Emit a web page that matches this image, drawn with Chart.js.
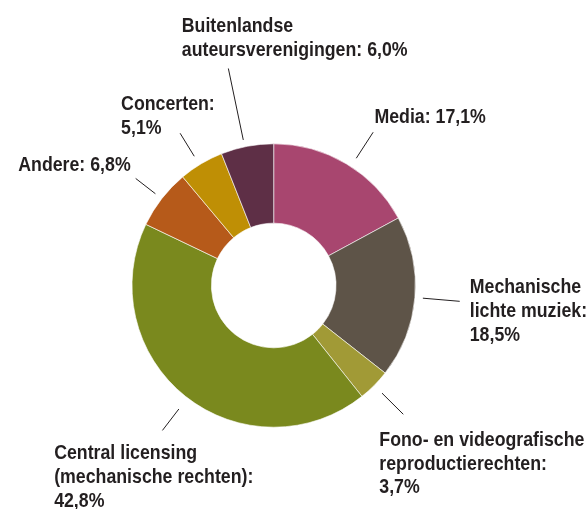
<!DOCTYPE html>
<html>
<head>
<meta charset="utf-8">
<script src="https://cdn.jsdelivr.net/npm/chart.js@4/dist/chart.umd.min.js"></script>
<style>
  html, body { margin: 0; padding: 0; background: #ffffff; }
  #wrap { width: 588px; height: 509px; }
</style>
</head>
<body>
<div id="wrap"><canvas id="c" width="588" height="509"></canvas></div>
<script>
// ---- data ----
const categories = [
  "Media",
  "Mechanische lichte muziek",
  "Fono- en videografische reproductierechten",
  "Central licensing (mechanische rechten)",
  "Andere",
  "Concerten",
  "Buitenlandse auteursverenigingen"
];
const values = [17.1, 18.5, 3.7, 42.8, 6.8, 5.1, 6.0];
// label text lines; {v} is replaced by the formatted value
const labelLines = [
  ["Media: {v}"],
  ["Mechanische", "lichte muziek:", "{v}"],
  ["Fono- en videografische", "reproductierechten:", "{v}"],
  ["Central licensing", "(mechanische rechten):", "{v}"],
  ["Andere: {v}"],
  ["Concerten:", "{v}"],
  ["Buitenlandse", "auteursverenigingen: {v}"]
];
const colors = ["#a8466f", "#5e5448", "#a19a36", "#7a891e", "#b65a1a", "#bf8f05", "#5e2f46"];

// ---- label layout (leader-line angle tweak in degrees, radii, text offsets from line end) ----
const labelLayout = [
  { da: 2.2,  r0: 10, r1: 41, dx: 1.3,    dy: -9,   align: "left"  },
  { da: 0,    r0: 8,  r1: 45, dx: 10,     dy: -8,   align: "left"  },
  { da: 0,    r0: 11, r1: 41, dx: -24,    dy: 31.6, align: "left"  },
  { da: -1,   r0: 14, r1: 41, dx: -108.3, dy: 28.8, align: "left"  },
  { da: 0,    r0: 8,  r1: 33, dx: -5,     dy: -7.6, align: "right" },
  { da: -0.8, r0: 10, r1: 37, dx: -59,    dy: -23,  align: "left"  },
  { da: -1,   r0: 7,  r1: 80, dx: -46.6,  dy: -36.2,align: "left"  }
];
const fmt = v => v.toFixed(1).replace(".", ",") + "%";
const FONT = 'bold 21px "Liberation Sans", Arial, sans-serif';
const HSCALE = 0.845;
const LINE_H = 23.7;

const leaderLabels = {
  id: "leaderLabels",
  afterDatasetsDraw(chart) {
    const ctx = chart.ctx;
    const meta = chart.getDatasetMeta(0);
    meta.data.forEach((arc, i) => {
      const p = arc.getProps(["x", "y", "startAngle", "endAngle", "outerRadius"], true);
      const L = labelLayout[i];
      const mid = (p.startAngle + p.endAngle) / 2 + L.da * Math.PI / 180;
      const ra = p.outerRadius + L.r0, rb = p.outerRadius + L.r1;
      const x0 = p.x + Math.cos(mid) * ra, y0 = p.y + Math.sin(mid) * ra;
      const x1 = p.x + Math.cos(mid) * rb, y1 = p.y + Math.sin(mid) * rb;
      ctx.save();
      ctx.strokeStyle = "#231f20";
      ctx.lineWidth = 1;
      ctx.beginPath();
      ctx.moveTo(x0, y0);
      ctx.lineTo(x1, y1);
      ctx.stroke();
      ctx.restore();
      ctx.save();
      ctx.fillStyle = "#231f20";
      ctx.font = FONT;
      ctx.textAlign = L.align;
      ctx.textBaseline = "alphabetic";
      ctx.translate(x1 + L.dx, y1 + L.dy);
      ctx.scale(HSCALE, 1);
      labelLines[i].forEach((ln, k) => {
        ctx.fillText(ln.replace("{v}", fmt(values[i])), 0, k * LINE_H);
      });
      ctx.restore();
    });
  }
};

new Chart(document.getElementById("c"), {
  type: "doughnut",
  data: {
    labels: categories,
    datasets: [{
      data: values,
      backgroundColor: colors,
      borderColor: "#ffffff",
      borderWidth: 0.6
    }]
  },
  options: {
    responsive: false,
    animation: false,
    cutout: "44%",
    rotation: 0,
    layout: { padding: { left: 131.7, right: 172.3, top: 143.5, bottom: 81.5 } },
    plugins: { legend: { display: false }, tooltip: { enabled: false } }
  },
  plugins: [leaderLabels]
});
</script>
</body>
</html>
